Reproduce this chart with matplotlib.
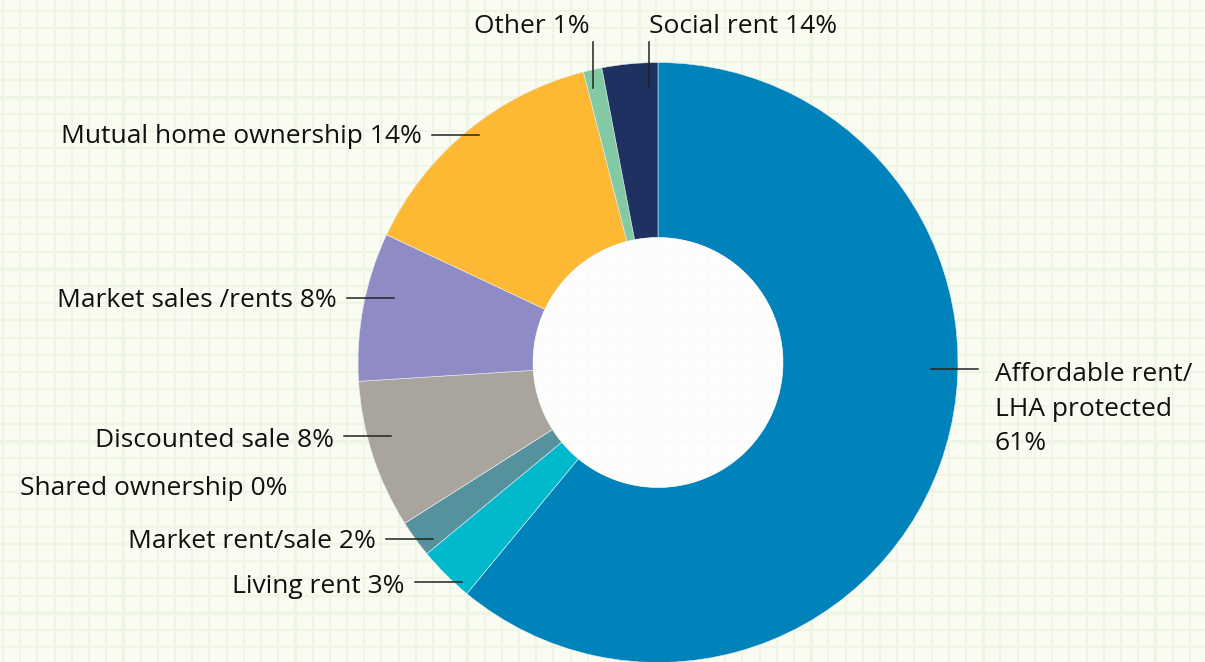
import numpy as np
import matplotlib
matplotlib.use("Agg")
from matplotlib import pyplot as plt
from matplotlib.patches import Circle

# Housing tenure mix (slice sizes, labels as printed)
tenures = ['Affordable rent/\nLHA protected\n61%', 'Living rent 3%', 'Market rent/sale 2%',
           'Shared ownership 0%', 'Discounted sale 8%', 'Market sales /rents 8%',
           'Mutual home ownership 14%', 'Other 1%', 'Social rent 14%']
shares = [61, 3, 2, 0, 8, 8, 14, 1, 3]
colours = ['#0083BB', '#00B9CD', '#56929E', '#7A9A9A', '#A9A59E', '#8F8BC5',
           '#FDB934', '#83C9A3', '#1F3160']

W, H = 1205, 662
bg = '#FAFCF2'
gridcol = '#EEF5E5'

fig = plt.figure(figsize=(W / 100, H / 100), dpi=100, facecolor=bg)
ax = fig.add_axes([0, 0, 1, 1])

# graph paper background
step = 17.2
for k in range(-10, 80):
    x = 123.3 + k * step
    if 0 <= x <= W:
        ax.axvline(x, color=gridcol, lw=2.4 if k % 10 == 0 else 1.6, zorder=0)
for k in range(-10, 50):
    y = H - (96.7 + k * step)
    if 0 <= y <= H:
        ax.axhline(y, color=gridcol, lw=2.4 if k % 10 == 0 else 1.6, zorder=0)

# donut
cx, cy = 658, H - 362.5
r_out, r_in = 300, 125
ax.pie(shares, colors=colours, startangle=90, counterclock=False,
       radius=r_out, center=(cx, cy), frame=True,
       wedgeprops=dict(width=r_out - r_in, edgecolor='#E8EEF0', linewidth=0.4))
ax.add_patch(Circle((cx, cy), r_in, facecolor='white', alpha=0.8, edgecolor='none', zorder=3))
ax.set_xlim(0, W)
ax.set_ylim(0, H)
ax.set_aspect('equal')
ax.axis('off')

# labels: (x, baseline y in px from top, alignment, leader direction)
font = dict(family=['Open Sans', 'DejaVu Sans'], fontsize=19, color='#111111')
label_pos = [
    (995, 450, 'left', 'left'),
    (405, 593, 'right', 'right'),
    (376, 548, 'right', 'right'),
    (288, 495, 'right', None),
    (334, 447, 'right', 'right'),
    (337, 307, 'right', 'right'),
    (422, 143, 'right', 'right'),
    (590, 33, 'right', 'down'),
    (649, 33, 'left', 'down'),
]
lead_y = [369, 582, 539, None, 436, 298, 135, None, None]
lead_x = [None, None, None, None, None, None, None, 593, 649]

for i, (name, (tx, ty, ha, lead)) in enumerate(zip(tenures, label_pos)):
    ax.text(tx, H - ty, name, ha=ha, va='baseline', linespacing=1.5, zorder=5, **font)
    if lead == 'left':
        ax.plot([tx - 64, tx - 17], [H - lead_y[i]] * 2, color='#222222', lw=1.1, zorder=5)
    elif lead == 'right':
        ax.plot([tx + 10, tx + 57], [H - lead_y[i]] * 2, color='#222222', lw=1.1, zorder=5)
    elif lead == 'down':
        ax.plot([lead_x[i]] * 2, [H - 42, H - 88], color='#222222', lw=1.1, zorder=5)

fig.savefig('out.png', dpi=100, facecolor=bg)
